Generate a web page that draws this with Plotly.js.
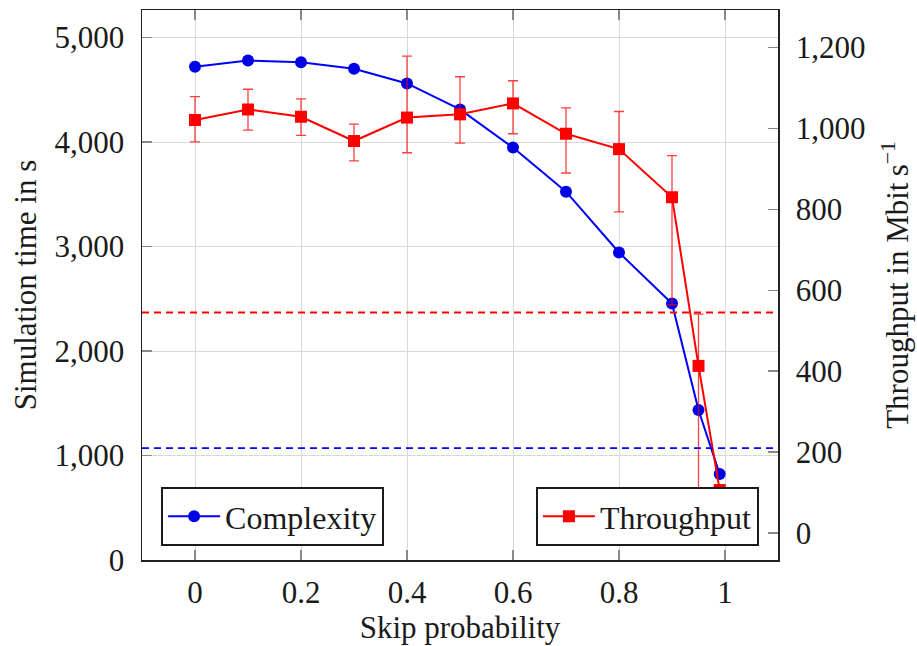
<!DOCTYPE html>
<html>
<head>
<meta charset="utf-8">
<script src="https://cdn.plot.ly/plotly-3.0.1.min.js"></script>
<style>html,body{margin:0;padding:0;background:#fff;}#chart{width:917px;height:646px;}</style>
</head>
<body>
<div id="chart"></div>
<script>
// Data
const skipProb = [0, 0.1, 0.2, 0.3, 0.4, 0.5, 0.6, 0.7, 0.8, 0.9, 0.95, 0.99];
const simTime = [4720, 4781, 4765, 4701, 4561, 4312, 3947, 3525, 2943, 2454, 1435, 822];
const throughput = [1021, 1047, 1029, 969, 1027, 1035, 1062, 987, 949, 830, 413, 106];
const throughputHigh = [1079, 1097, 1073, 1011, 1179, 1128, 1118, 1051, 1042, 933, 541, 106];
const throughputLow = [967, 996, 983, 920, 940, 964, 987, 890, 794, 564, 0, 106];
const complexityRef = 1070;   // dashed blue reference (simulation time)
const throughputRef = 545;    // dashed red reference (throughput)

const errPlus = throughput.map((v, i) => throughputHigh[i] - v);
const errMinus = throughput.map((v, i) => v - throughputLow[i]);

const FONT = '"Liberation Serif"';
const TXT = '#1a1a1a';

const traces = [
  {
    x: skipProb, y: simTime, name: 'Complexity', type: 'scatter', mode: 'lines+markers',
    line: {color: '#0000ff', width: 2}, marker: {symbol: 'circle', size: 12, color: '#0000e6'},
    legend: 'legend', yaxis: 'y'
  },
  {
    x: skipProb, y: throughput, name: 'Throughput', type: 'scatter', mode: 'lines+markers',
    line: {color: '#ff0000', width: 2}, marker: {symbol: 'square', size: 12, color: '#ff0000'},
    error_y: {type: 'data', symmetric: false, array: errPlus, arrayminus: errMinus,
              color: 'rgba(255,0,0,0.75)', thickness: 1.3, width: 5},
    legend: 'legend2', yaxis: 'y2'
  }
];

const layout = {
  width: 917, height: 646,
  margin: {l: 142, r: 139, t: 10, b: 86},
  paper_bgcolor: '#fff', plot_bgcolor: '#fff',
  font: {family: FONT, size: 31, color: TXT},
  showlegend: true,
  xaxis: {
    range: [-0.1, 1.1], tickmode: 'array', tickvals: [0, 0.2, 0.4, 0.6, 0.8, 1],
    ticktext: ['0', '0.2', '0.4', '0.6', '0.8', '1'],
    showgrid: true, gridcolor: '#d9d9d9', gridwidth: 1, zeroline: false,
    showline: true, linecolor: '#222', linewidth: 1.5, mirror: 'ticks',
    ticks: 'inside', ticklen: 10, tickwidth: 1.3, tickcolor: '#888', ticklabelstandoff: 4,
    tickfont: {family: FONT, size: 31, color: TXT},
    title: {text: 'Skip probability', font: {family: FONT, size: 31, color: TXT}, standoff: 7}
  },
  yaxis: {
    range: [0, 5264], tickmode: 'array', tickvals: [0, 1000, 2000, 3000, 4000, 5000],
    tickformat: ',', showgrid: true, gridcolor: '#d9d9d9', gridwidth: 1, zeroline: false,
    showline: true, linecolor: '#222', linewidth: 1.5,
    ticks: 'inside', ticklen: 10, tickwidth: 1.3, tickcolor: '#888', ticklabelstandoff: 10,
    tickfont: {family: FONT, size: 31, color: TXT},
    title: {text: 'Simulation time in s', font: {family: FONT, size: 31, color: TXT}, standoff: 8}
  },
  yaxis2: {
    overlaying: 'y', side: 'right', range: [-67, 1293],
    tickmode: 'array', tickvals: [0, 200, 400, 600, 800, 1000, 1200], tickformat: ',',
    showgrid: false, zeroline: false, showline: true, linecolor: '#222', linewidth: 1.5,
    ticks: 'inside', ticklen: 10, tickwidth: 1.3, tickcolor: '#888', ticklabelstandoff: 10,
    tickfont: {family: FONT, size: 31, color: TXT},
    title: {text: 'Throughput in Mbit\u2009s<sup>\u22121</sup>', font: {family: FONT, size: 31, color: TXT}, standoff: 22}
  },
  legend: {
    x: 0.03, y: 0.0255, xanchor: 'left', yanchor: 'bottom', itemwidth: 52,
    bgcolor: '#fff', bordercolor: '#1a1a1a', borderwidth: 2,
    font: {family: FONT, size: 32, color: TXT}
  },
  legend2: {
    x: 0.97, y: 0.0255, xanchor: 'right', yanchor: 'bottom', itemwidth: 52,
    bgcolor: '#fff', bordercolor: '#1a1a1a', borderwidth: 2,
    font: {family: FONT, size: 32, color: TXT}
  },
  shapes: [
    {type: 'line', xref: 'paper', x0: 0, x1: 1, yref: 'y', y0: complexityRef, y1: complexityRef,
     line: {color: '#0000ff', width: 1.8, dash: '7px,5px'}},
    {type: 'line', xref: 'paper', x0: 0, x1: 1, yref: 'y2', y0: throughputRef, y1: throughputRef,
     line: {color: '#ff0000', width: 1.8, dash: '7px,5px'}}
  ]
};

Plotly.newPlot('chart', traces, layout, {displayModeBar: false, staticPlot: true});
</script>
</body>
</html>
